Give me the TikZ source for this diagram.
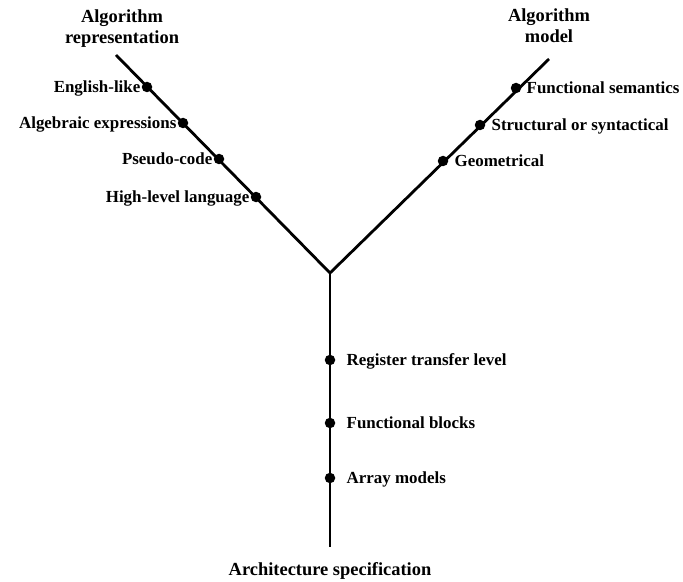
\documentclass[tikz,border=0pt]{standalone}
\usepackage{fontspec}
\setmainfont{Liberation Serif}
\begin{document}
\begin{tikzpicture}[x=1bp,y=-1bp,
  arm/.style={line width=2.8bp},
  dot/.style={circle,fill=black,inner sep=0pt,minimum size=10.5bp},
  lbl/.style={font=\fontsize{17}{19}\selectfont\bfseries,inner sep=0pt},
  head/.style={font=\fontsize{18.5}{21.5}\selectfont\bfseries,align=center,inner sep=0pt}]
\useasboundingbox (0,0) rectangle (683,582);
% branch ends and the junction
\coordinate (J) at (330,273);
\coordinate (L) at (116,55);
\coordinate (R) at (549,59);
\coordinate (B) at (330,547);
\draw[arm] (L) -- (J) -- (R);
\draw[arm] (J) -- (B);
% headings (base anchor sits on the last line)
\node[head,anchor=base] (hrep) at (122,44) {Algorithm\\representation};
\node[head,anchor=base] (hmod) at (549,43) {Algorithm\\model};
\node[head,anchor=base] (harch) at (330,575) {Architecture specification};
% algorithm representation levels
\node[dot] (l1) at (147,87) {};
\node[dot] (l2) at (183,123) {};
\node[dot] (l3) at (219,159) {};
\node[dot] (l4) at (256,197) {};
\node[lbl,anchor=base east] at ([xshift=-1bp,yshift=-5.5bp]l1.west) {English-like};
\node[lbl,anchor=base east] at ([xshift=-1bp,yshift=-5.5bp]l2.west) {Algebraic expressions};
\node[lbl,anchor=base east] at ([xshift=-1bp,yshift=-5.5bp]l3.west) {Pseudo-code};
\node[lbl,anchor=base east] at ([xshift=-1bp,yshift=-5.5bp]l4.west) {High-level language};
% algorithm model levels
\node[dot] (r1) at (516,88) {};
\node[dot] (r2) at (480,125) {};
\node[dot] (r3) at (443,161) {};
\node[lbl,anchor=base west] at ([xshift=5bp,yshift=-5.5bp]r1.east) {Functional semantics};
\node[lbl,anchor=base west] at ([xshift=6bp,yshift=-5.5bp]r2.east) {Structural or syntactical};
\node[lbl,anchor=base west] at ([xshift=6bp,yshift=-5.5bp]r3.east) {Geometrical};
% architecture levels
\node[dot] (b1) at (330,360) {};
\node[dot] (b2) at (330,423) {};
\node[dot] (b3) at (330,478) {};
\node[lbl,anchor=base west] at ([xshift=11bp,yshift=-5.5bp]b1.east) {Register transfer level};
\node[lbl,anchor=base west] at ([xshift=11bp,yshift=-5.5bp]b2.east) {Functional blocks};
\node[lbl,anchor=base west] at ([xshift=11bp,yshift=-5.5bp]b3.east) {Array models};
\end{tikzpicture}
\end{document}
